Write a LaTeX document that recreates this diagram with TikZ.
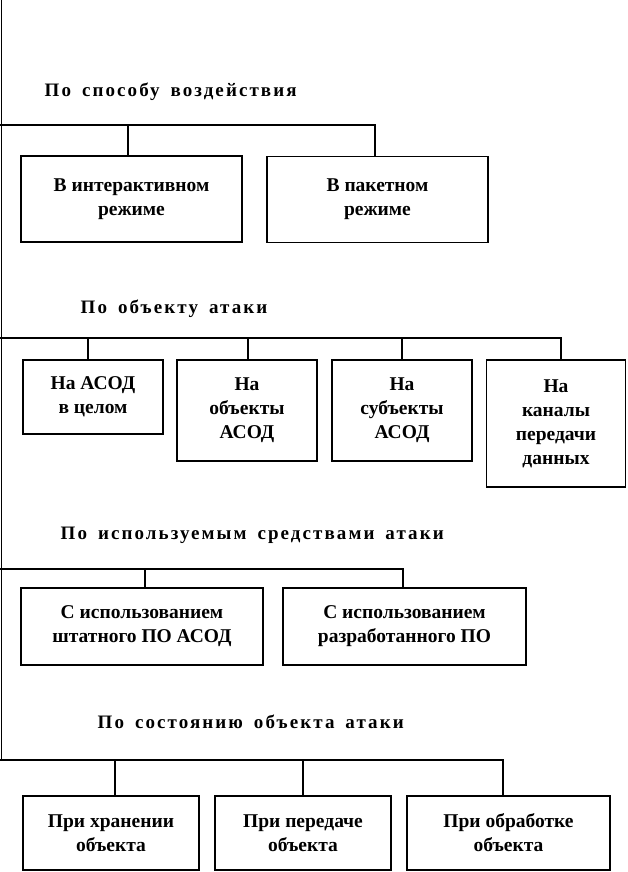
\documentclass[tikz,border=0pt]{standalone}
\usepackage{fontspec}
\setmainfont{Liberation Serif}
\newfontfamily\titlefont[LetterSpace=11,WordSpace=1.6]{Liberation Serif}
\begin{document}
\begin{tikzpicture}[x=1pt,y=-1pt,
  line width=1.4pt,
  box/.style={draw, rectangle, inner sep=0pt, align=center,
    font=\fontsize{19.5}{24}\selectfont\bfseries},
  ttl/.style={anchor=base west, inner sep=0pt,
    font=\fontsize{19}{22}\titlefont\bfseries}]
\useasboundingbox (0,0) rectangle (627,872);

% titles
\node[ttl] (t1) at (44,97) {По способу воздействия};
\node[ttl] (t2) at (80,313) {По объекту атаки};
\node[ttl] (t3) at (60,539) {По используемым средствами атаки};
\node[ttl] (t4) at (97,728) {По состоянию объекта атаки};

% section 1
\node[box, minimum width=221, minimum height=86] (b11) at (131.5,199) {В интерактивном\\режиме};
\node[box, minimum width=221, minimum height=86] (b12) at (377.5,199.5) {В пакетном\\режиме};
% section 2
\node[box, minimum width=140, minimum height=74] (b21) at (93,397) {На АСОД\\в целом};
\node[box, minimum width=140, minimum height=101] (b22) at (247,410.5) {На\\объекты\\АСОД};
\node[box, minimum width=140, minimum height=101] (b23) at (402,410.5) {На\\субъекты\\АСОД};
\node[box, minimum width=139, minimum height=127] (b24) at (556,423.5) {На\\каналы\\передачи\\данных};
% section 3
\node[box, minimum width=242, minimum height=77] (b31) at (142,626.5) {С использованием\\штатного ПО АСОД};
\node[box, minimum width=243, minimum height=77] (b32) at (404.5,626.5) {С использованием\\разработанного ПО};
% section 4
\node[box, minimum width=176, minimum height=74] (b41) at (111,833) {При хранении\\объекта};
\node[box, minimum width=176, minimum height=74] (b42) at (303,833) {При передаче\\объекта};
\node[box, minimum width=203, minimum height=74] (b43) at (508.5,833) {При обработке\\объекта};

% trunk and junctions
\coordinate (top) at (1.5,0);
\coordinate (j1) at (1.5,125);
\coordinate (j2) at (1.5,338);
\coordinate (j3) at (1.5,569);
\coordinate (j4) at (1.5,760);
\draw (top) -- (j4);

% section 1 connectors
\draw (0,125) -- ([xshift=-2.5pt]b12.north |- j1) -- ([xshift=-2.5pt]b12.north);
\draw ([xshift=-3.5pt]b11.north |- j1) -- ([xshift=-3.5pt]b11.north);
% section 2 connectors
\draw (0,338) -- ([xshift=5pt]b24.north |- j2) -- ([xshift=5pt]b24.north);
\draw ([xshift=-5pt]b21.north |- j2) -- ([xshift=-5pt]b21.north);
\draw ([xshift=1pt]b22.north |- j2) -- ([xshift=1pt]b22.north);
\draw (b23.north |- j2) -- (b23.north);
% section 3 connectors
\draw (0,569) -- ([xshift=-1.5pt]b32.north |- j3) -- ([xshift=-1.5pt]b32.north);
\draw ([xshift=3pt]b31.north |- j3) -- ([xshift=3pt]b31.north);
% section 4 connectors
\draw (0,760) -- ([xshift=-5.5pt]b43.north |- j4) -- ([xshift=-5.5pt]b43.north);
\draw ([xshift=4pt]b41.north |- j4) -- ([xshift=4pt]b41.north);
\draw (b42.north |- j4) -- (b42.north);
\end{tikzpicture}
\end{document}
